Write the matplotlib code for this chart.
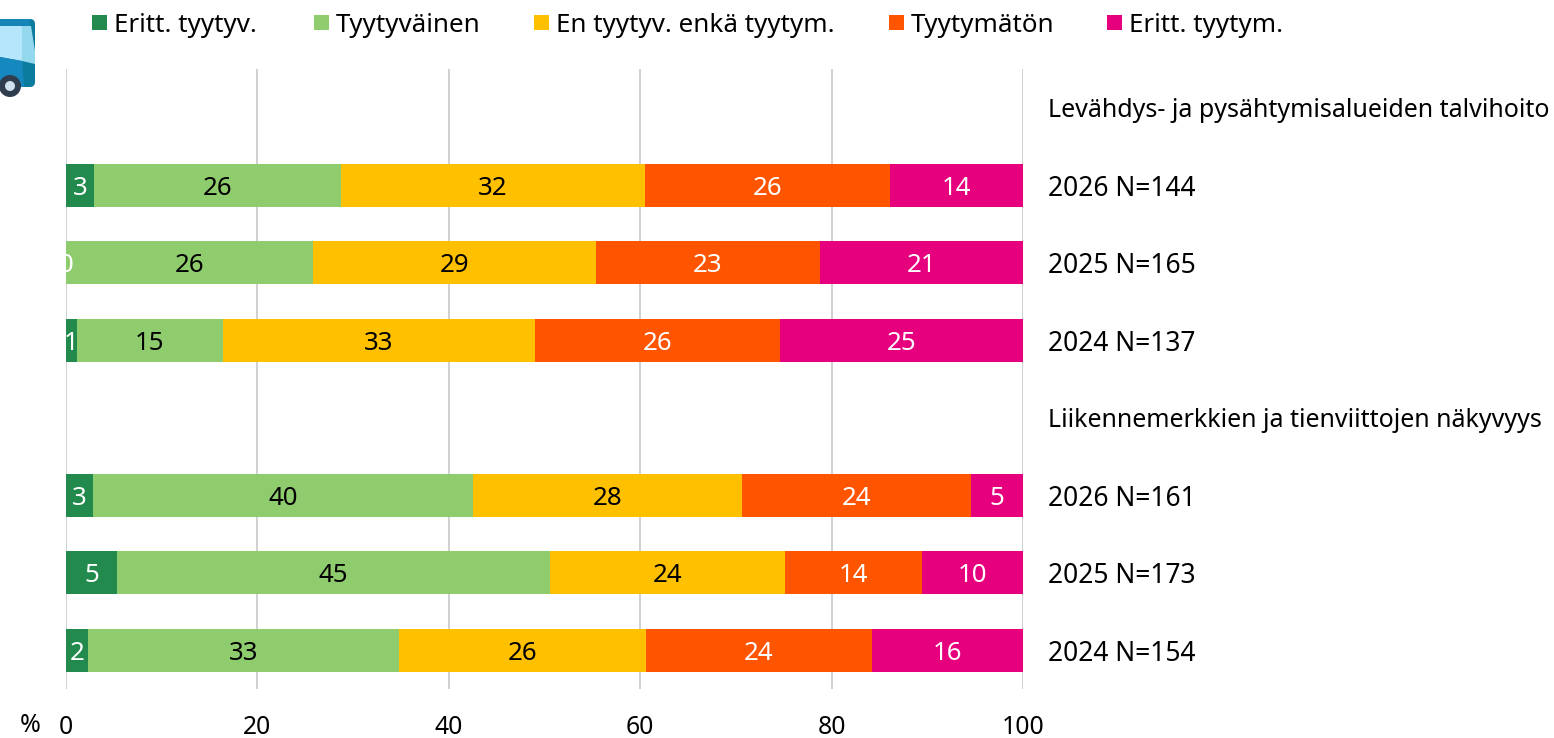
import matplotlib
matplotlib.use('Agg')
import matplotlib.pyplot as plt
import numpy as np
from matplotlib.patches import FancyBboxPatch, Circle, Rectangle, Polygon

plt.rcParams['font.family'] = ['Noto Sans', 'DejaVu Sans']

series_names = ['Eritt. tyytyv.', 'Tyytyväinen', 'En tyytyv. enkä tyytym.', 'Tyytymätön', 'Eritt. tyytym.']
row_labels = ['Levähdys- ja pysähtymisalueiden talvihoito', '2026 N=144', '2025 N=165', '2024 N=137',
              'Liikennemerkkien ja tienviittojen näkyvyys', '2026 N=161', '2025 N=173', '2024 N=154']
heading_rows = [0, 4]

very_satisfied = [0, 3.0, 0.0, 1.15, 0, 2.85, 5.4, 2.3]
satisfied = [0, 25.8, 25.85, 15.3, 0, 39.7, 45.2, 32.5]
neutral = [0, 31.7, 29.55, 32.55, 0, 28.1, 24.5, 25.8]
dissatisfied = [0, 25.6, 23.4, 25.6, 0, 23.9, 14.4, 23.6]
very_dissatisfied = [0, 13.9, 21.2, 25.4, 0, 5.45, 10.5, 15.8]
shown_labels = [
    [None, 3, 0, 1, None, 3, 5, 2],
    [None, 26, 26, 15, None, 40, 45, 33],
    [None, 32, 29, 33, None, 28, 24, 26],
    [None, 26, 23, 26, None, 24, 14, 24],
    [None, 14, 21, 25, None, 5, 10, 16],
]

colors = ['#218a4c', '#8fcc6e', '#ffc000', '#ff5500', '#e6007e']
text_colors = ['white', 'black', 'black', 'white', 'white']
all_series = [very_satisfied, satisfied, neutral, dissatisfied, very_dissatisfied]

fig = plt.figure(figsize=(15.54, 7.38), dpi=100)
ax = fig.add_axes([65.7 / 1554, 1 - 689 / 738, (1023 - 65.7) / 1554, (689 - 69) / 738])

y = np.arange(len(row_labels))
left = np.zeros(len(row_labels))
for values, color, txt_color, labels in zip(all_series, colors, text_colors, shown_labels):
    values = np.array(values)
    ax.barh(y, values, left=left, height=0.555, color=color, zorder=3)
    for i, lab in enumerate(labels):
        if lab is not None:
            ax.text(left[i] + values[i] / 2, y[i], str(lab), color=txt_color, ha='center', va='center_baseline',
                    fontsize=18.6, zorder=4)
    left = left + values

ax.set_xlim(0, 100)
ax.set_ylim(7.5, -0.5)
ax.set_yticks([])
ax.set_xticks([0, 20, 40, 60, 80, 100])
ax.tick_params(axis='x', length=0, labelsize=17.8, pad=19)
ax.xaxis.grid(True, color='#c8c8c8', linewidth=1.2, zorder=0)
for s in ax.spines:
    ax.spines[s].set_visible(False)

for i, lab in enumerate(row_labels):
    size = 18 if i in heading_rows else 19
    ax.text(102.6, y[i], lab, ha='left', va='center_baseline', fontsize=size, clip_on=False)

fig.text(30 / 1554, 1 - 722 / 738, '%', fontsize=18, ha='center', va='center_baseline')

# legend
legend_x = [92, 314, 534, 889, 1107]
for name, color, lx in zip(series_names, colors, legend_x):
    fig.patches.append(Rectangle((lx / 1554, 1 - 30 / 738), 15 / 1554, 15 / 738, transform=fig.transFigure,
                                 facecolor=color, edgecolor='none'))
    fig.text((lx + 22) / 1554, 1 - 23 / 738, name, fontsize=18.7, ha='left', va='center_baseline')

# little bus icon in the corner
icon = fig.add_axes([0, 1 - 105 / 738, 40 / 1554, 90 / 738])
icon.set_xlim(0, 40)
icon.set_ylim(90, 0)
icon.axis('off')
icon.add_patch(FancyBboxPatch((-14, 4), 49, 68, boxstyle='round,pad=0,rounding_size=5', facecolor='#0b7c9e', edgecolor='none'))
icon.add_patch(Polygon([(-2, 4), (30, 4), (30, 11), (-2, 11)], facecolor='#1585b8', edgecolor='none'))
icon.add_patch(Polygon([(0, 11), (22, 11), (22, 46), (0, 42)], facecolor='#b5e6fb', edgecolor='none'))
icon.add_patch(Polygon([(22, 11), (31, 11), (35, 36), (35, 49), (22, 46)], facecolor='#94d8ee', edgecolor='none'))
icon.add_patch(Polygon([(0, 42), (22, 46), (24, 72), (0, 72)], facecolor='#1688c0', edgecolor='none'))
icon.add_patch(Circle((10, 71), 11, facecolor='#2f3d4f', edgecolor='none'))
icon.add_patch(Circle((10, 71), 5, facecolor='#cfe0ee', edgecolor='none'))

fig.savefig('out.png', dpi=100)
